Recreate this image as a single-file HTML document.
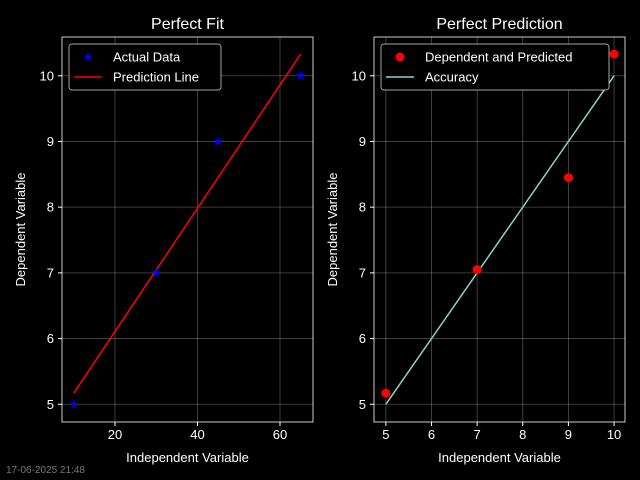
<!DOCTYPE html>
<html><head><meta charset="utf-8"><style>
body{margin:0;background:#000;}
svg{display:block;font-family:"Liberation Sans","DejaVu Sans",sans-serif;}
</style></head><body>
<svg id="c" width="640" height="480" viewBox="0 0 640 480">
<rect width="640" height="480" fill="#000"/>
</svg>
<script>
const leftX=[10,30,45,65];
const leftY=[5,7,9,10];
const lineX=[10,65];
const lineY=[5.17,10.33];
const rightX=[5,7,9,10];
const rightPred=[5.17,7.05,8.45,10.33];
const accX=[5,10];
const accY=[5,10];
const leftXTicks=[20,40,60];
const rightXTicks=[5,6,7,8,9,10];
const yTicks=[5,6,7,8,9,10];
const NS='http://www.w3.org/2000/svg';
const svg=document.getElementById('c');
function mk(t,a,p){const e=document.createElementNS(NS,t);for(const k in a)e.setAttribute(k,a[k]);(p||svg).appendChild(e);return e;}
function panel(name,x0,x1,xmin,xmax,xt,title){
 const y0=37,y1=422,ymin=4.73,ymax=10.59;
 const sx=v=>x0+(v-xmin)/(xmax-xmin)*(x1-x0);
 const sy=v=>y1-(v-ymin)/(ymax-ymin)*(y1-y0);
 const g=mk('g',{});
 
 
 mk('rect',{x:x0,y:y0,width:x1-x0,height:y1-y0,fill:'#000'},g);
 xt.forEach(v=>{const X=sx(v);
  mk('line',{x1:X,x2:X,y1:y0,y2:y1,stroke:'#fff','stroke-opacity':0.3,'stroke-width':0.8},g);
  mk('line',{x1:X,x2:X,y1:y1,y2:y1+4,stroke:'#fff'},g);
  const t=mk('text',{x:X,y:y1+17,fill:'#fff','font-size':13,'text-anchor':'middle'},g);t.textContent=v;
  });
 yTicks.forEach(v=>{const Y=sy(v);
  mk('line',{x1:x0,x2:x1,y1:Y,y2:Y,stroke:'#fff','stroke-opacity':0.3,'stroke-width':0.8},g);
  mk('line',{x1:x0-4,x2:x0,y1:Y,y2:Y,stroke:'#fff'},g);
  const t=mk('text',{x:x0-8,y:Y+4.5,fill:'#fff','font-size':13,'text-anchor':'end'},g);t.textContent=v;
  });
 mk('rect',{x:x0,y:y0,width:x1-x0,height:y1-y0,fill:'none',stroke:'#fff','stroke-width':0.8},g);
 let t=mk('text',{x:(x0+x1)/2,y:29,fill:'#fff','font-size':16,'text-anchor':'middle'},g);t.textContent=title;
 
 t=mk('text',{x:(x0+x1)/2,y:462,fill:'#fff','font-size':13,'text-anchor':'middle'},g);t.textContent='Independent Variable';
 
 const cx=x0-37,cy=(y0+y1)/2;
 t=mk('text',{x:cx,y:cy,fill:'#fff','font-size':13,'text-anchor':'middle',transform:`rotate(-90 ${cx} ${cy})`},g);t.textContent='Dependent Variable';
 
 return {g,sx,sy};
}
function star(g,x,y,r,fill){let p='';for(let i=0;i<10;i++){const a=-Math.PI/2+i*Math.PI/5;const rr=i%2?r*0.4:r;p+=(x+rr*Math.cos(a))+','+(y+rr*Math.sin(a))+' ';}
 return mk('polygon',{points:p,fill:fill},g);}
const L=panel('left-panel',62,313,7.15,68,leftXTicks,'Perfect Fit');
let e=mk('polyline',{points:lineX.map((v,i)=>L.sx(v)+','+L.sy(lineY[i])).join(' '),fill:'none',stroke:'#f00','stroke-width':1.5},L.g);

leftX.forEach((v,i)=>{const s=star(L.g,L.sx(v),L.sy(leftY[i]),5,'#00f');
 });
const R=panel('right-panel',374,625,4.74,10.24,rightXTicks,'Perfect Prediction');
e=mk('polyline',{points:accX.map((v,i)=>R.sx(v)+','+R.sy(accY[i])).join(' '),fill:'none',stroke:'#8dd3c7','stroke-width':1.5},R.g);

rightX.forEach((v,i)=>{const c=mk('circle',{cx:R.sx(v),cy:R.sy(rightPred[i]),r:4.5,fill:'#f00'},R.g);
 });
// legends
function legend(x,y,w,items){const g=mk('g',{});
 
 mk('rect',{x:x,y:y,width:w,height:46,rx:3,fill:'#000',stroke:'#ccc','stroke-opacity':0.8},g);
 items.forEach((it,i)=>{const yy=y+13+i*20;
  if(it.t==='star')star(g,x+19,yy,5,it.c);else if(it.t==='dot')mk('circle',{cx:x+19,cy:yy,r:4.5,fill:it.c},g);
  else mk('line',{x1:x+5,x2:x+33,y1:yy,y2:yy,stroke:it.c,'stroke-width':1.5},g);
  const t=mk('text',{x:x+44,y:yy+4.5,fill:'#fff','font-size':13},g);t.textContent=it.l;
  });}
legend(69,44,152,[{t:'star',c:'#00f',l:'Actual Data'},{t:'line',c:'#f00',l:'Prediction Line'}]);
legend(381,44,228,[{t:'dot',c:'#f00',l:'Dependent and Predicted'},{t:'line',c:'#8dd3c7',l:'Accuracy'}]);
e=mk('text',{x:6,y:473,fill:'#777','font-size':10});e.textContent='17-06-2025 21:48';

</script>
</body></html>
